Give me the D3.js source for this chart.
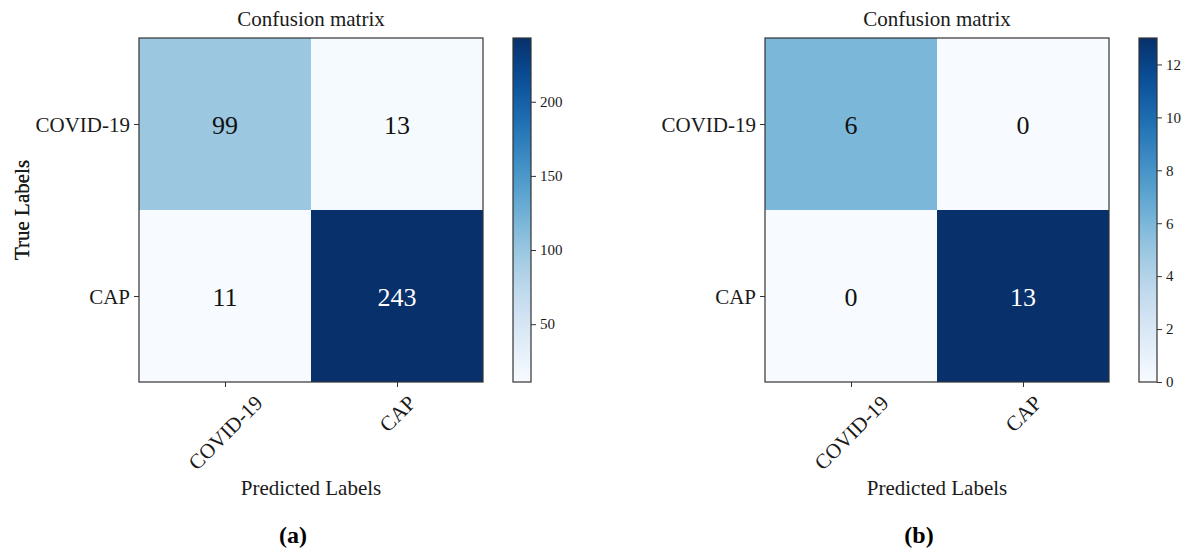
<!DOCTYPE html>
<html>
<head>
<meta charset="utf-8">
<script src="https://cdn.jsdelivr.net/npm/d3@7"></script>
<style>
  body { margin: 0; background: #fff; }
  svg text { font-family: "Liberation Serif", "DejaVu Serif", serif; fill: #1a1a1a; }
</style>
</head>
<body>
<div id="chart"></div>
<script>
// class names (rows = true, columns = predicted)
var classes = ['COVID-19', 'CAP'];

// panel (a)
var matrixA = [[99, 13], [11, 243]];
var ticksA = [50, 100, 150, 200];

// panel (b)
var matrixB = [[6, 0], [0, 13]];
var ticksB = [0, 2, 4, 6, 8, 10, 12];

var panelLabels = ['(a)', '(b)'];

var svg = d3.select('#chart')
    .append('svg')
    .attr('width', 1184)
    .attr('height', 552);

var defs = svg.append('defs');

function drawPanel(matrix, cbTicks, offsetX, label, idx) {
    var size = 344;
    var flat = matrix.flat();
    var vmin = d3.min(flat), vmax = d3.max(flat);
    var thresh = vmax / 2;

    var g = svg.append('g')
        .attr('transform', 'translate(' + offsetX + ', ' + 38 + ')');

    var xScale = d3.scaleBand().domain(classes).range([0, size]);
    var yScale = d3.scaleBand().domain(classes).range([0, size]);
    var color = d3.scaleSequential(d3.interpolateBlues).domain([vmin, vmax]);

    var cells = [];
    for (let r = 0; r < matrix.length; r++) {
        for (let c = 0; c < matrix[r].length; c++) {
            cells.push({ row: classes[r], col: classes[c], value: matrix[r][c] });
        }
    }

    g.selectAll('rect.cell')
        .data(cells)
        .enter()
        .append('rect')
        .attr('class', 'cell')
        .attr('x', d => xScale(d.col))
        .attr('y', d => yScale(d.row))
        .attr('width', xScale.bandwidth())
        .attr('height', yScale.bandwidth())
        .attr('fill', d => color(d.value));

    g.selectAll('text.val')
        .data(cells)
        .enter()
        .append('text')
        .attr('class', 'val')
        .attr('x', d => xScale(d.col) + xScale.bandwidth() / 2)
        .attr('y', d => yScale(d.row) + yScale.bandwidth() / 2 + 1)
        .attr('text-anchor', 'middle')
        .attr('dominant-baseline', 'central')
        .attr('font-size', '26px')
        .style('fill', d => d.value > thresh ? '#ffffff' : '#111111')
        .text(d => d.value);

    g.append('rect')
        .attr('width', size)
        .attr('height', size)
        .attr('fill', 'none')
        .attr('stroke', '#333')
        .attr('stroke-width', 1.2);

    // y axis
    var yTicks = g.append('g').attr('class', 'y-axis');
    classes.forEach(function(c) {
        var y = yScale(c) + yScale.bandwidth() / 2 + 0.5;
        yTicks.append('line')
            .attr('x1', -5).attr('x2', 0)
            .attr('y1', y).attr('y2', y)
            .attr('stroke', '#333');
        yTicks.append('text')
            .attr('x', -9)
            .attr('y', y)
            .attr('text-anchor', 'end')
            .attr('dominant-baseline', 'central')
            .attr('font-size', '21px')
            .text(c);
    });

    // x axis, labels rotated 45deg and centred under the tick
    var xTicks = g.append('g').attr('class', 'x-axis')
        .attr('transform', 'translate(0,' + size + ')');
    classes.forEach(function(c) {
        var x = xScale(c) + xScale.bandwidth() / 2 + 0.5;
        xTicks.append('line')
            .attr('x1', x).attr('x2', x)
            .attr('y1', 0).attr('y2', 5)
            .attr('stroke', '#333');
        var t = xTicks.append('text')
            .attr('text-anchor', 'middle')
            .attr('dominant-baseline', 'central')
            .attr('font-size', '21px')
            .text(c);
        var w = t.node().getComputedTextLength();
        var h = 18;
        var yc = 11 + (w + h) / Math.SQRT2 / 2;
        t.attr('transform', 'translate(' + x + ',' + yc + ') rotate(-45)');
    });

    g.append('text')
        .attr('x', size / 2)
        .attr('y', -12)
        .attr('text-anchor', 'middle')
        .attr('font-size', '21px')
        .text('Confusion matrix');

    g.append('text')
        .attr('x', size / 2)
        .attr('y', 457)
        .attr('text-anchor', 'middle')
        .attr('font-size', '21px')
        .text('Predicted Labels');

    g.append('text')
        .attr('transform', 'translate(' + (-(offsetX - 29)) + ',' + size / 2 + ') rotate(-90)')
        .attr('text-anchor', 'middle')
        .attr('font-size', '21px')
        .text('True Labels');

    g.append('text')
        .attr('x', size / 2 - 18)
        .attr('y', 505)
        .attr('text-anchor', 'middle')
        .attr('font-size', '24px')
        .attr('font-weight', 'bold')
        .style('fill', '#000')
        .text(label);

    // colorbar
    var cbX = size + 30, cbW = 18;
    var gradId = 'grad' + idx;
    var grad = defs.append('linearGradient')
        .attr('id', gradId)
        .attr('x1', 0).attr('y1', 1).attr('x2', 0).attr('y2', 0);
    d3.range(0, 1.0001, 0.05).forEach(function(t) {
        grad.append('stop')
            .attr('offset', t)
            .attr('stop-color', d3.interpolateBlues(t));
    });

    var cbScale = d3.scaleLinear().domain([vmin, vmax]).range([size, 0]);
    var cb = g.append('g').attr('transform', 'translate(' + cbX + ',0)');
    cb.append('rect')
        .attr('width', cbW)
        .attr('height', size)
        .attr('fill', 'url(#' + gradId + ')')
        .attr('stroke', '#333')
        .attr('stroke-width', 1.2);

    var cbAxis = cb.append('g')
        .attr('transform', 'translate(' + cbW + ',0)')
        .call(d3.axisRight(cbScale).tickValues(cbTicks).tickSize(5).tickPadding(4));
    cbAxis.select('.domain').remove();
    cbAxis.selectAll('line').attr('stroke', '#333');
    cbAxis.selectAll('text')
        .attr('font-size', '15px')
        .attr('font-family', '"Liberation Serif", serif')
        .style('fill', '#1a1a1a');
}

drawPanel(matrixA, ticksA, 139, panelLabels[0], 0);
drawPanel(matrixB, ticksB, 765, panelLabels[1], 1);
</script>
</body>
</html>
